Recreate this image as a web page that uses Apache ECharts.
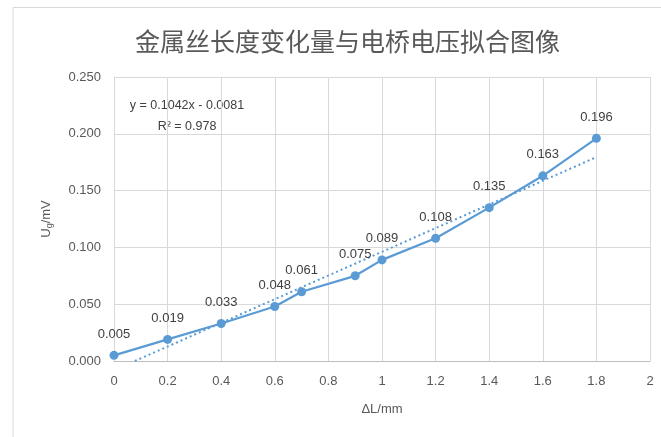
<!DOCTYPE html>
<html><head><meta charset="utf-8">
<script src="https://cdn.jsdelivr.net/npm/echarts@6/dist/echarts.min.js"></script>
<style>html,body{margin:0;padding:0;background:#fff}#c{width:661px;height:437px}</style>
</head><body><div id="c"></div>
<script>
const xValues = [0, 0.2, 0.4, 0.6, 0.7, 0.9, 1.0, 1.2, 1.4, 1.6, 1.8];
const yValues = [0.005, 0.019, 0.033, 0.048, 0.061, 0.075, 0.089, 0.108, 0.135, 0.163, 0.196];
const labels = ['0.005','0.019','0.033','0.048','0.061','0.075','0.089','0.108','0.135','0.163','0.196'];
const slope = 0.1042, intercept = -0.0081;
const trendText = ['y = 0.1042x - 0.0081', 'R² = 0.978'];

const xStart = Math.max(xValues[0], -intercept / slope);
const xEnd = xValues[xValues.length - 1];
const trend = [[xStart, slope * xStart + intercept], [xEnd, slope * xEnd + intercept]];

const chart = echarts.init(document.getElementById('c'), null, {renderer: 'canvas'});
const font = 'Liberation Sans, Noto Sans CJK SC, sans-serif';
chart.setOption({
  animation: false,
  textStyle: {fontFamily: font},
  title: {
    text: '金属丝长度变化量与电桥电压拟合图像',
    left: 130, top: 24,
    textStyle: {fontFamily: 'Noto Sans CJK SC', fontSize: 25, fontWeight: 'normal', color: '#595959'}
  },
  graphic: [
    {type: 'polyline', shape: {points: [[13, 437], [13, 7.5], [661, 7.5]]}, style: {stroke: '#d9d9d9', lineWidth: 1, fill: null}},
    {type: 'text', x: 187, y: 95, style: {text: trendText[0] + '\n' + trendText[1], fontSize: 12.5, lineHeight: 21, fill: '#404040', fontFamily: font, align: 'center'}}
  ],
  grid: {left: 114, right: 11, top: 77, bottom: 76},
  xAxis: {
    type: 'value', min: 0, max: 2, interval: 0.2,
    name: 'ΔL/mm', nameLocation: 'middle', nameGap: 42,
    nameTextStyle: {fontSize: 13, color: '#595959'},
    axisLine: {lineStyle: {color: '#bfbfbf'}},
    axisTick: {show: false},
    axisLabel: {color: '#595959', fontSize: 13, margin: 14, formatter: v => String(+v.toFixed(1))},
    splitLine: {lineStyle: {color: '#d9d9d9'}}
  },
  yAxis: {
    type: 'value', min: 0, max: 0.25, interval: 0.05,
    name: '{u|U}{s|g}{u|/mV}', nameLocation: 'middle', nameGap: 60,
    nameTextStyle: {rich: {u: {fontSize: 13, color: '#595959'}, s: {fontSize: 9, color: '#595959', verticalAlign: 'bottom', padding: [6, 0, 0, 0]}}},
    axisLine: {show: true, lineStyle: {color: '#d9d9d9'}},
    axisTick: {show: false},
    axisLabel: {color: '#595959', fontSize: 13, margin: 13, formatter: v => v.toFixed(3)},
    splitLine: {lineStyle: {color: '#d9d9d9'}}
  },
  series: [
    {
      type: 'line', data: trend, symbol: 'none',
      lineStyle: {color: '#5B9BD5', width: 2, type: [2, 3]}, z: 2
    },
    {
      type: 'line', data: xValues.map((x, i) => [x, yValues[i]]),
      symbol: 'circle', symbolSize: 9,
      itemStyle: {color: '#5B9BD5'},
      lineStyle: {color: '#5B9BD5', width: 2.25},
      label: {show: true, position: 'top', distance: 10, fontSize: 13, color: '#404040',
        formatter: p => labels[p.dataIndex]},
      z: 3
    }
  ]
});
</script></body></html>
